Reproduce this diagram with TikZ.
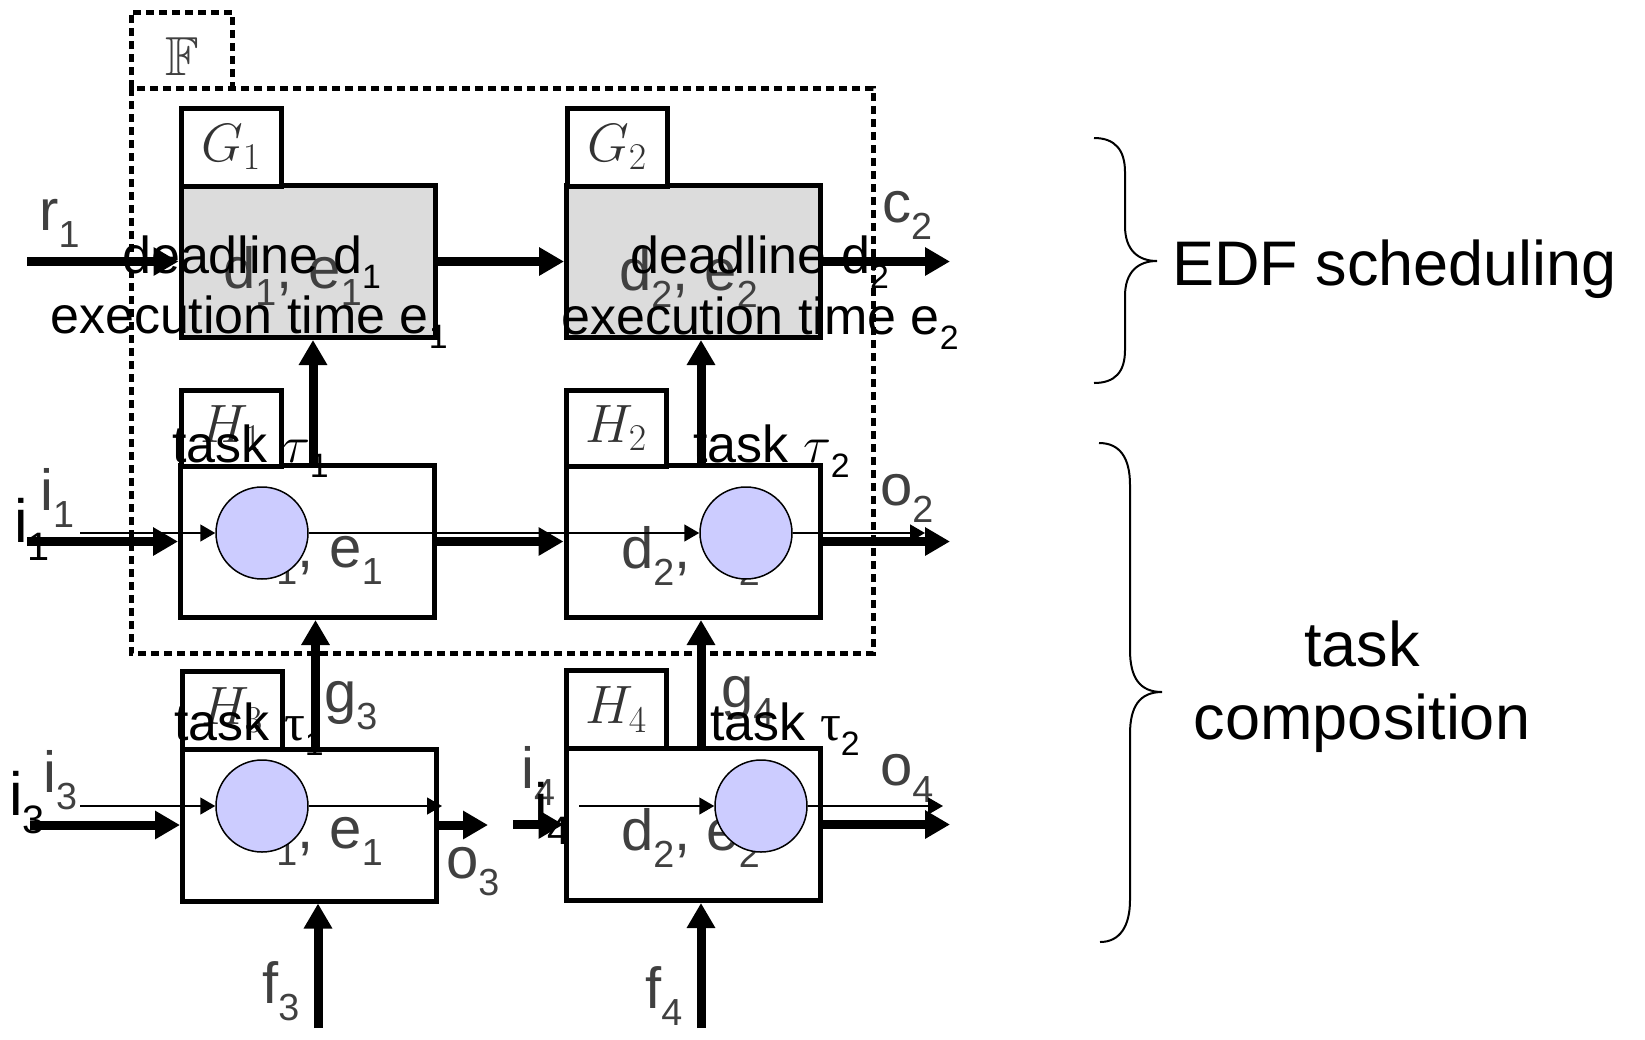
\RequirePackage{fix-cm}
\documentclass[tikz,border=0pt]{standalone}
\usepackage{amsmath,amssymb}
\usepackage{graphicx}
\usepackage{fontspec}
\setmainfont{Liberation Sans}
\newfontfamily\greekserif{Liberation Serif}
\usepackage{tikz}
\usetikzlibrary{arrows.meta, positioning, calc}
\definecolor{boxgray}{HTML}{DCDCDC}
\definecolor{procblue}{HTML}{CCCCFF}
\newcommand{\sbs}[1]{\raisebox{-0.3em}{\scalebox{0.65}{#1}}}

\begin{document}
\begin{tikzpicture}[x=1pt, y=-1pt,
  tbox/.style={rectangle, draw, line width=5pt, minimum width=254pt,
    minimum height=152pt, inner sep=0pt},
  tab/.style={rectangle, draw, line width=5pt, fill=white, minimum width=100pt,
    minimum height=78pt, inner sep=0pt, font=\fontsize{54}{60}\selectfont, text=black!80},
  fbox/.style={line width=5pt, dash pattern=on 8pt off 5pt},
  tarr/.style={line width=9pt, -{Triangle[length=25pt, width=27pt]}},
  sarr/.style={line width=1.5pt, -{Triangle[length=15pt, width=17pt]}},
  proc/.style={circle, draw, line width=1.5pt, fill=procblue, minimum size=92pt, inner sep=0pt},
  rlab/.style={inner sep=0pt, anchor=base west, font=\fontsize{58}{66}\selectfont, text=black!75},
  olab/.style={inner sep=0pt, anchor=base west, font=\fontsize{52}{62}\selectfont},
  ilab/.style={inner sep=0pt, anchor=base west, font=\fontsize{61}{70}\selectfont},
  side/.style={inner sep=0pt, font=\fontsize{63}{73}\selectfont},
  brace/.style={line width=2pt},
]
  \useasboundingbox (0,0) rectangle (1645,1039);

  % frame F
  \draw[fbox] (131,88) rectangle (873,653);
  \draw[fbox] (131,88) |- (232,12) -- (232,88);
  \node[inner sep=0pt, anchor=base west, font=\fontsize{55}{60}\selectfont, text=black!75]
    (Flab) at (165,75) {$\mathbb{F}$};

  % boxes and tabs
  \node[tbox, fill=boxgray] (G1) at (308,261.5) {};
  \node[tbox, fill=boxgray] (G2) at (693.5,261.5) {};
  \node[tbox] (H1) at (307.5,541.5) {};
  \node[tbox] (H2) at (693,541.5) {};
  \node[tbox] (H3) at (309.5,825) {};
  \node[tbox] (H4) at (693,824.5) {};
  \node[tab] (tG1) at (231,147) {$G_1$};
  \node[tab] (tG2) at (617,147) {$G_2$};
  \node[tab, minimum height=76pt] (tH1) at (231,428) {$H_1$};
  \node[tab, minimum height=76pt] (tH2) at (616,428) {$H_2$};
  \node[tab] (tH3) at (232,710) {$H_3$};
  \node[tab] (tH4) at (616,709.5) {$H_4$};

  % free ends
  \coordinate (r1in) at (27,261.5);
  \coordinate (c2out) at (950,261.5);
  \coordinate (i1in) at (27,541.5);
  \coordinate (o2out) at (950,541.5);
  \coordinate (i3in) at (30,825);
  \coordinate (o3out) at (488,825);
  \coordinate (i4in) at (513,824.5);
  \coordinate (o4out) at (950,824.5);
  \coordinate (f3in) at (318,1028);
  \coordinate (f4in) at (701,1028);

  % thick connectors
  \draw[tarr] (r1in) -- (r1in -| G1.west);
  \draw[tarr] (G1.east) -- (G2.west);
  \draw[tarr] (G2.east) -- (c2out);
  \draw[tarr] (i1in) -- (i1in -| H1.west);
  \draw[tarr] (H1.east) -- (H2.west);
  \draw[tarr] (H2.east) -- (o2out);
  \draw[tarr] (i3in) -- (i3in -| H3.west);
  \draw[tarr] (H3.east) -- (o3out);
  \draw[tarr] (i4in) -- (i4in -| H4.west);
  \draw[tarr] (H4.east) -- (o4out);
  \draw[tarr] ([xshift=5.5pt]H1.north) -- ([xshift=5.5pt]H1.north |- G1.south);
  \draw[tarr] ([xshift=8pt]H2.north) -- ([xshift=8pt]H2.north |- G2.south);
  \draw[tarr] ([xshift=6pt]H3.north) -- ([xshift=6pt]H3.north |- H1.south);
  \draw[tarr] ([xshift=8pt]H4.north) -- ([xshift=8pt]H4.north |- H2.south);
  \draw[tarr] (f3in) -- (f3in |- H3.south);
  \draw[tarr] (f4in) -- (f4in |- H4.south);

  % port and box labels
  \node[rlab] (lr1) at (39,230) {r\sbs{1}};
  \node[rlab] (lc2) at (882,222) {c\sbs{2}};
  \node[rlab] (li1) at (40,510) {i\sbs{1}};
  \node[rlab] (lo2) at (880,505) {o\sbs{2}};
  \node[rlab] (lg3) at (324,712) {g\sbs{3}};
  \node[rlab] (lg4) at (721,707) {g\sbs{4}};
  \node[rlab] (li3) at (43,792) {i\sbs{3}};
  \node[rlab] (lo3) at (446,878) {o\sbs{3}};
  \node[rlab] (li4) at (521,788) {i\sbs{4}};
  \node[rlab] (lo4) at (880,785) {o\sbs{4}};
  \node[rlab] (lf3) at (262,1003) {f\sbs{3}};
  \node[rlab] (lf4) at (645,1008) {f\sbs{4}};
  \node[rlab] (dG1) at (223,288) {d\sbs{1}, e\sbs{1}};
  \node[rlab] (dG2) at (619,290) {d\sbs{2}, e\sbs{2}};
  \node[rlab] (dH1) at (244,567) {d\sbs{1}, e\sbs{1}};
  \node[rlab] (dH2) at (621,568) {d\sbs{2}, e\sbs{2}};
  \node[rlab] (dH3) at (244,848) {d\sbs{1}, e\sbs{1}};
  \node[rlab] (dH4) at (621,850) {d\sbs{2}, e\sbs{2}};

  % processes
  \node[proc] (sp1) at (262,533) {};
  \node[proc] (sp2) at (746,533) {};
  \node[proc] (sp3) at (262,806) {};
  \node[proc] (sp4) at (761,806) {};
  \coordinate (s1in) at (80,533);
  \coordinate (s2out) at (925,533);
  \coordinate (s3in) at (80,806);
  \coordinate (s3out) at (442,806);
  \coordinate (s4in) at (579,806);
  \coordinate (s4out) at (943,806);
  \draw[sarr] (s1in) -- (sp1);
  \draw[sarr] (sp1) -- (sp2);
  \draw[sarr] (sp2) -- (s2out);
  \draw[sarr] (s3in) -- (sp3);
  \draw[sarr] (sp3) -- (s3out);
  \draw[sarr] (s4in) -- (sp4);
  \draw[sarr] (sp4) -- (s4out);

  % annotations
  \node[olab] (dl1) at (122,273) {deadline d\sbs{1}};
  \node[olab] (ex1) at (50,333) {execution time e\sbs{1}};
  \node[olab] (dl2) at (630,273) {deadline d\sbs{2}};
  \node[olab] (ex2) at (561,334) {execution time e\sbs{2}};
  \node[olab] (tk1) at (172,462) {task $\tau$\sbs{1}};
  \node[olab] (tk2) at (693,462) {task $\tau$\sbs{2}};
  \node[olab] (tk3) at (174,740) {task {\greekserif τ}\sbs{1}};
  \node[olab] (tk4) at (710,740) {task {\greekserif τ}\sbs{2}};
  \node[ilab] (i1o) at (14,542) {i\sbs{1}};
  \node[ilab] (i3o) at (9,815) {i\sbs{3}};
  \node[ilab] (i4o) at (534,826) {i\sbs{4}};

  % braces
  \draw[brace] (1094,138) .. controls (1115,138) and (1125,150) .. (1125,172)
    -- (1125,226) .. controls (1125,250) and (1138,261) .. (1157,261)
    .. controls (1138,261) and (1125,272) .. (1125,296)
    -- (1125,350) .. controls (1125,372) and (1115,383) .. (1094,383);
  \draw[brace] (1099,443) .. controls (1120,443) and (1130,458) .. (1130,485)
    -- (1130,650) .. controls (1130,678) and (1140,692) .. (1162,692)
    .. controls (1140,692) and (1130,706) .. (1130,734)
    -- (1130,900) .. controls (1130,926) and (1120,942) .. (1100,942);
  \node[side, anchor=base west] (edf) at (1172,285) {EDF scheduling};
  \node[side, align=center] (comp) at (1362,687) {task\\composition};
\end{tikzpicture}
\end{document}
